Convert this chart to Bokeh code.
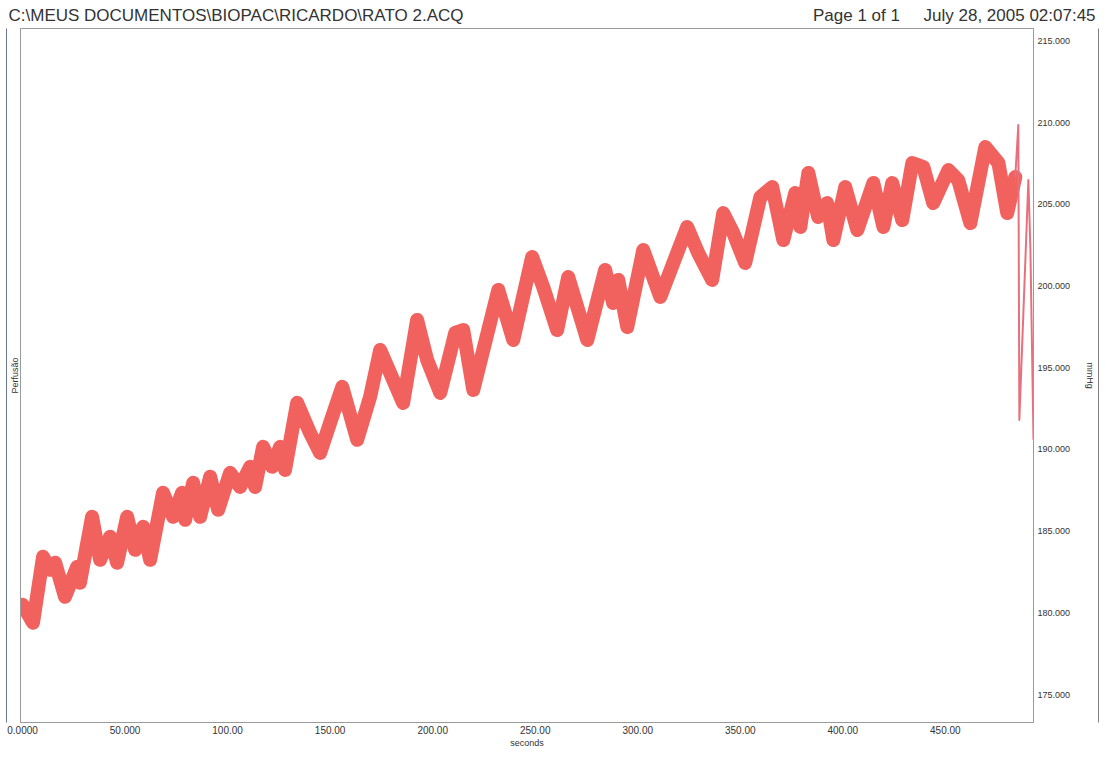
from bokeh.plotting import figure
from bokeh.models import LinearAxis, FixedTicker, PrintfTickFormatter, Range1d, Title
from bokeh.embed import file_html
from bokeh.resources import INLINE

# ---- data ----
time_s = [0.0, 5.1, 10.0, 13.4, 15.9, 20.7, 26.6, 28.0, 33.9, 37.8, 42.7, 46.1, 51.0, 54.9,
          58.8, 62.2, 68.5, 73.4, 77.8, 79.3, 83.2, 86.6, 91.5, 95.4,
          101.2, 106.1, 111.0, 113.4, 117.3, 121.7, 125.6, 128.0, 133.9, 140.2, 145.1, 150.0,
          155.9, 163.2, 169.5,
          174.4, 185.6, 192.4, 197.3,
          203.7, 211.0, 214.9, 219.8, 232.0, 239.3, 248.5, 253.9, 260.7, 266.1, 275.4, 284.1,
          288.0, 290.5, 294.9, 302.7, 311.0, 324.1, 329.5, 336.3, 341.7, 346.6, 352.4, 359.8,
          365.6, 371.0, 376.8, 379.3, 383.2, 388.0, 392.4, 395.4, 401.2, 407.1, 414.9, 419.8,
          424.1, 429.0, 433.9, 439.3, 444.1, 451.5, 456.3, 462.2, 469.5, 475.9, 480.2, 484.1]
pressure_mmHg = [180.50, 179.40, 183.44, 182.64, 183.07, 180.99, 182.82, 181.85, 185.88, 183.25,
                 184.66, 183.07, 185.88, 183.86, 185.27, 183.25, 187.35, 185.88, 187.35, 185.70,
                 187.96, 185.88, 188.33, 186.31,
                 188.57, 187.71, 188.94, 187.71, 190.16, 188.94, 190.16, 188.75, 192.85, 191.01,
                 189.79, 191.63, 193.83, 190.59, 193.22,
                 196.09, 192.85, 197.92, 195.48, 193.46,
                 197.13, 197.31, 193.64, 199.76, 196.70, 201.77, 199.94, 197.31, 200.55, 196.70,
                 200.98, 198.96, 200.37, 197.49, 202.20, 199.33, 203.61, 202.02, 200.37, 204.46,
                 203.24, 201.41, 205.44, 206.05, 202.81, 205.68, 203.61, 206.91, 204.22, 205.07,
                 202.81, 206.05, 203.42, 206.30, 203.61, 206.30, 204.03, 207.52, 207.27, 205.07,
                 207.09, 206.48, 203.85, 208.50, 207.52, 204.46, 206.66]
# final artefact (thin trace)
spike_time_s = [484.1, 485.6, 486.1, 490.5, 491.5, 493.0]
spike_mmHg = [206.66, 209.84, 191.81, 206.48, 202.20, 190.59]

x_ticks = [0, 50, 100, 150, 200, 250, 300, 350, 400, 450]
x_tick_labels = ["0.0000", "50.000", "100.00", "150.00", "200.00",
                 "250.00", "300.00", "350.00", "400.00", "450.00"]
y_ticks = [175, 180, 185, 190, 195, 200, 205, 210, 215]

header_left = "C:\\MEUS DOCUMENTOS\\BIOPAC\\RICARDO\\RATO 2.ACQ"
header_page = "Page 1 of 1"
header_date = "July 28, 2005 02:07:45"

FONT = "Liberation Sans"
GREY = "#9a9a9a"
TXT = "#333333"
NB = "\u00a0"

p = figure(frame_width=1013, frame_height=694,
           x_range=Range1d(-1, 493), y_range=Range1d(173.3, 215.75),
           x_axis_type=None, y_axis_type=None,
           output_backend="svg", toolbar_location=None,
           min_border_left=20, min_border_right=68, min_border_top=28,
           min_border_bottom=32,
           background_fill_color="white", border_fill_color="white")
p.outline_line_color = GREY
p.grid.visible = False

# header line (one title, gaps kept with non-breaking spaces)
p.title = Title(text=header_left + NB * 74 + header_page + NB * 5 + header_date,
                align="left", offset=-12, standoff=7,
                text_font=FONT, text_font_size="17px", text_color=TXT,
                text_font_style="normal")


def bare_axis(color=GREY, **kw):
    ax = LinearAxis(ticker=FixedTicker(ticks=[]), major_tick_out=0, major_tick_in=0,
                    minor_tick_out=0, minor_tick_in=0, axis_line_color=color, **kw)
    ax.major_label_text_font_size = "0px"
    ax.axis_label_text_font = FONT
    ax.axis_label_text_font_size = "9px"
    ax.axis_label_text_color = TXT
    ax.axis_label_text_font_style = "normal"
    return ax


# bottom axis
xb = LinearAxis(ticker=FixedTicker(ticks=x_ticks),
                major_label_overrides={t: s for t, s in zip(x_ticks, x_tick_labels)},
                axis_label="seconds", major_tick_out=0, major_tick_in=0,
                minor_tick_out=0, minor_tick_in=0, axis_line_color=GREY,
                major_label_standoff=3, axis_label_standoff=1)
xb.major_label_text_font = FONT
xb.major_label_text_font_size = "10px"
xb.major_label_text_color = TXT
xb.axis_label_text_font = FONT
xb.axis_label_text_font_size = "9px"
xb.axis_label_text_font_style = "normal"
xb.axis_label_text_color = TXT
p.add_layout(xb, "below")

# right axis with values
yr = LinearAxis(ticker=FixedTicker(ticks=y_ticks), formatter=PrintfTickFormatter(format="%.3f"),
                axis_label="mmHg", major_tick_out=0, major_tick_in=0,
                minor_tick_out=0, minor_tick_in=0, axis_line_color=GREY,
                major_label_standoff=4, axis_label_standoff=12)
yr.major_label_text_font = FONT
yr.major_label_text_font_size = "9px"
yr.major_label_text_color = TXT
yr.axis_label_text_font = FONT
yr.axis_label_text_font_size = "9px"
yr.axis_label_text_font_style = "normal"
yr.axis_label_text_color = TXT
p.add_layout(yr, "right")
p.add_layout(bare_axis("#808080"), "right")

# left side label and outer line
p.add_layout(bare_axis(axis_label="Perfusão", axis_label_standoff=1), "left")
p.add_layout(bare_axis("#6a7890"), "left")

# trace
p.line(time_s, pressure_mmHg, line_color="#f05a55", line_width=14, line_join="round",
       line_cap="round", line_alpha=0.95)
p.line(spike_time_s, spike_mmHg, line_color="#e8707c", line_width=2, line_join="round")

open("out.html", "w").write(file_html(p, INLINE))
